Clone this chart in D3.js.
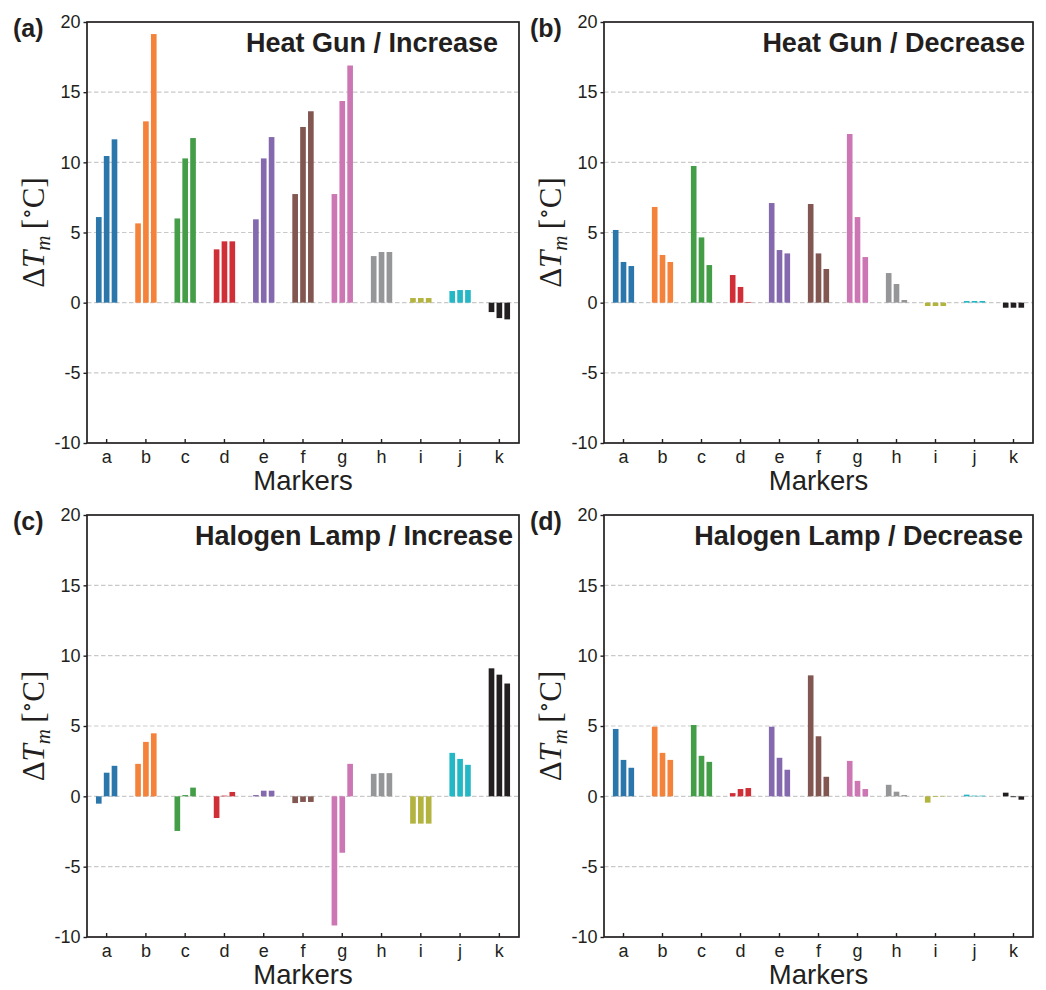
<!DOCTYPE html>
<html>
<head>
<meta charset="utf-8">
<script src="https://cdn.jsdelivr.net/npm/d3@7"></script>
<style>
    body { margin: 0; background: #fff; }
    svg { display: block; }
    text { fill: #231f20; }
</style>
</head>
<body>
<div id="vis"></div>
<script>
// markers on the x axis
const markers = ['a', 'b', 'c', 'd', 'e', 'f', 'g', 'h', 'i', 'j', 'k'];
const yTicks = [-10, -5, 0, 5, 10, 15, 20];
const gridTicks = [-5, 0, 5, 10, 15];

// ΔTm per marker, three repeats each
const heatGunIncrease = [
    [6.1, 10.45, 11.64], [5.65, 12.92, 19.14], [6.0, 10.28, 11.73], [3.8, 4.37, 4.37],
    [5.94, 10.28, 11.8], [7.74, 12.52, 13.64], [7.74, 14.37, 16.9], [3.32, 3.61, 3.61],
    [0.33, 0.33, 0.33], [0.83, 0.9, 0.9], [-0.67, -1.1, -1.19]
];
const heatGunDecrease = [
    [5.18, 2.9, 2.61], [6.82, 3.4, 2.9], [9.74, 4.65, 2.68], [1.97, 1.12, 0.05],
    [7.1, 3.75, 3.51], [7.03, 3.51, 2.4], [12.02, 6.1, 3.25], [2.11, 1.33, 0.19],
    [-0.24, -0.24, -0.24], [0.12, 0.12, 0.12], [-0.36, -0.36, -0.36]
];
const halogenIncrease = [
    [-0.52, 1.68, 2.17], [2.31, 3.87, 4.48], [-2.46, 0.09, 0.62], [-1.54, 0.05, 0.31],
    [0.09, 0.4, 0.4], [-0.48, -0.4, -0.4], [-9.18, -4.01, 2.31], [1.6, 1.65, 1.65],
    [-1.94, -1.94, -1.94], [3.09, 2.66, 2.24], [9.1, 8.65, 8.02]
];
const halogenDecrease = [
    [4.79, 2.59, 2.03], [4.95, 3.09, 2.59], [5.07, 2.88, 2.45], [0.23, 0.52, 0.59],
    [4.95, 2.74, 1.89], [8.6, 4.27, 1.39], [2.52, 1.1, 0.52], [0.82, 0.33, 0.09],
    [-0.45, -0.05, 0.03], [0.12, 0.05, 0.05], [0.26, -0.06, -0.24]
];

const colors = ['#2b76ab', '#f5823a', '#439e47', '#d12f37', '#8569af', '#835751',
                '#cc77b3', '#959698', '#b3b43f', '#24b8c6', '#231f20'];

const panels = [
    {tag: '(a)', title: 'Heat Gun / Increase', data: heatGunIncrease, col: 0, row: 0, titlePad: 21},
    {tag: '(b)', title: 'Heat Gun / Decrease', data: heatGunDecrease, col: 1, row: 0, titlePad: 8},
    {tag: '(c)', title: 'Halogen Lamp / Increase', data: halogenIncrease, col: 0, row: 1, titlePad: 6},
    {tag: '(d)', title: 'Halogen Lamp / Decrease', data: halogenDecrease, col: 1, row: 1, titlePad: 10}
];

const colX = [[87, 519], [604, 1033]];
const rowY = [[22, 443], [515, 937]];
const ink = '#231f20';
const sans = 'Liberation Sans, Arial, Helvetica, sans-serif';

const svg = d3.select('#vis').append('svg')
    .attr('width', 1046)
    .attr('height', 990);

panels.forEach(function (p) {
    const left = colX[p.col][0], right = colX[p.col][1];
    const top = rowY[p.row][0], bottom = rowY[p.row][1];

    const x = d3.scaleBand().domain(markers).range([left, right]).padding(0);
    const step = x.bandwidth();
    const xs = d3.scaleBand().domain([0, 1, 2])
        .range([0.2 * step, 0.8 * step])
        .paddingInner(0.28).paddingOuter(0.14);
    const y = d3.scaleLinear().domain([-10, 20]).range([bottom, top]);

    const g = svg.append('g');

    // dashed grid
    g.selectAll('line.grid')
        .data(gridTicks)
        .enter().append('line')
        .attr('class', 'grid')
        .attr('x1', left).attr('x2', right)
        .attr('y1', y).attr('y2', y)
        .attr('stroke', '#c9c9c9')
        .attr('stroke-width', 1.2)
        .attr('stroke-dasharray', '4.5,2.5');

    // bars
    const rows = [];
    p.data.forEach(function (vals, i) {
        vals.forEach(function (v, j) {
            rows.push({m: markers[i], j: j, v: v, c: colors[i]});
        });
    });
    g.selectAll('rect.bar')
        .data(rows)
        .enter().append('rect')
        .attr('class', 'bar')
        .attr('x', d => x(d.m) + xs(d.j))
        .attr('width', xs.bandwidth())
        .attr('y', d => y(Math.max(0, d.v)))
        .attr('height', d => Math.abs(y(d.v) - y(0)))
        .attr('fill', d => d.c);

    // y axis: ticks outward
    const yAxis = d3.axisLeft(y).tickValues(yTicks).tickSize(3.5).tickPadding(3)
        .tickFormat(d3.format('d'));
    const ya = g.append('g').attr('transform', 'translate(' + left + ',0)').call(yAxis);
    ya.select('.domain').remove();
    ya.selectAll('line').attr('stroke', ink).attr('stroke-width', 1.4);
    ya.selectAll('text')
        .style('font-family', sans).style('font-size', '18px')
        .attr('fill', ink)
        .text(d => d < 0 ? '-' + Math.abs(d) : d);

    // x axis: ticks inward
    const xAxis = d3.axisBottom(x).tickSize(-4).tickPadding(7);
    const xa = g.append('g').attr('transform', 'translate(0,' + bottom + ')').call(xAxis);
    xa.select('.domain').remove();
    xa.selectAll('line').attr('stroke', ink).attr('stroke-width', 1.4);
    xa.selectAll('text')
        .style('font-family', sans).style('font-size', '18px')
        .attr('fill', ink);

    // frame
    g.append('rect')
        .attr('x', left).attr('y', top)
        .attr('width', right - left).attr('height', bottom - top)
        .attr('fill', 'none')
        .attr('stroke', ink)
        .attr('stroke-width', 1.7);

    // x label
    g.append('text')
        .attr('x', (left + right) / 2)
        .attr('y', bottom + 47)
        .attr('text-anchor', 'middle')
        .style('font-family', sans).style('font-size', '27.5px')
        .text('Markers');

    // y label  ΔT_m [°C]
    const yl = g.append('text')
        .attr('transform', 'translate(' + (left - 43) + ',' + ((top + bottom) / 2) + ') rotate(-90)')
        .attr('text-anchor', 'middle')
        .style('font-family', 'Liberation Serif, DejaVu Serif, serif')
        .style('font-size', '31px');
    yl.append('tspan').text('Δ');
    yl.append('tspan').style('font-style', 'italic').text('T');
    yl.append('tspan').style('font-style', 'italic').style('font-size', '21px').attr('dy', 6).text('m');
    yl.append('tspan').attr('dy', -6).text('\u2009[');
    yl.append('tspan').style('font-size', '22px').attr('dy', -10).text('∘');
    yl.append('tspan').attr('dy', 10).text('C]');

    // panel tag
    g.append('text')
        .attr('x', left - 74)
        .attr('y', top + 15)
        .style('font-family', sans).style('font-size', '25px').style('font-weight', 'bold')
        .text(p.tag);

    // title
    g.append('text')
        .attr('x', right - p.titlePad)
        .attr('y', top + 30)
        .attr('text-anchor', 'end')
        .style('font-family', sans).style('font-size', '27px').style('font-weight', 'bold')
        .text(p.title);
});
</script>
</body>
</html>
